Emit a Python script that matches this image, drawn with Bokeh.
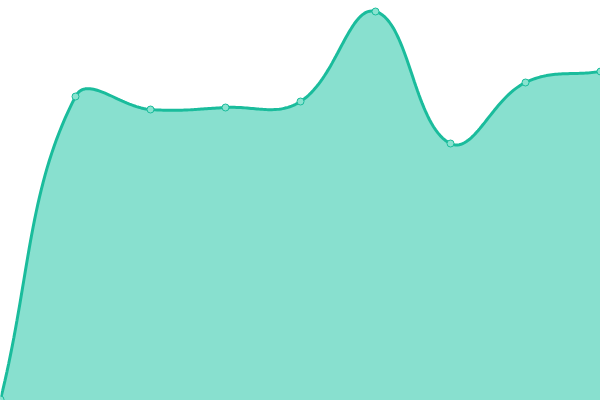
import numpy as np
from bokeh.plotting import figure
from bokeh.models import Range1d
from bokeh.embed import file_html
from bokeh.resources import INLINE

# data
labels = ["1", "2", "3", "4", "5", "6", "7", "8", "9"]
values = [1, 304, 291, 293, 299, 389, 257, 318, 329]

W, H = 600, 400
Y_MAX = 400
N = len(values)

xs = np.arange(N, dtype=float)
ys = np.array(values, dtype=float)

# Chart.js-like cardinal spline (tension 0.4), computed in screen space
sx = W / (N - 1)
sy = H / Y_MAX
px = xs * sx
py = ys * sy
t = 0.4
cp_prev = []
cp_next = []
for i in range(N):
    p0 = (px[max(i - 1, 0)], py[max(i - 1, 0)])
    p1 = (px[i], py[i])
    p2 = (px[min(i + 1, N - 1)], py[min(i + 1, N - 1)])
    d01 = np.hypot(p1[0] - p0[0], p1[1] - p0[1])
    d12 = np.hypot(p2[0] - p1[0], p2[1] - p1[1])
    s01 = d01 / (d01 + d12) if (d01 + d12) else 0
    s12 = d12 / (d01 + d12) if (d01 + d12) else 0
    fa, fb = t * s01, t * s12
    cp_prev.append((p1[0] - fa * (p2[0] - p0[0]), min(max(p1[1] - fa * (p2[1] - p0[1]), 0), H)))
    cp_next.append((p1[0] + fb * (p2[0] - p0[0]), min(max(p1[1] + fb * (p2[1] - p0[1]), 0), H)))

cx, cy = [], []
tt = np.linspace(0, 1, 40)
for i in range(N - 1):
    P0 = np.array([px[i], py[i]])
    P1 = np.array(cp_next[i])
    P2 = np.array(cp_prev[i + 1])
    P3 = np.array([px[i + 1], py[i + 1]])
    for u in tt[:-1] if i < N - 2 else tt:
        b = ((1 - u) ** 3) * P0 + 3 * ((1 - u) ** 2) * u * P1 + 3 * (1 - u) * u * u * P2 + (u ** 3) * P3
        cx.append(b[0] / sx)
        cy.append(b[1] / sy)

p = figure(width=W, height=H, output_backend="svg", toolbar_location=None,
           x_range=Range1d(0, N - 1), y_range=Range1d(0, Y_MAX),
           min_border=0, min_border_left=0, min_border_right=0,
           min_border_top=0, min_border_bottom=0)
p.axis.visible = False
p.grid.visible = False
p.outline_line_color = None
p.background_fill_color = "white"

p.varea(x=cx, y1=0, y2=cy, fill_color="#88e0cf", fill_alpha=1.0)
p.line(x=cx, y=cy, line_color="#1abc9c", line_width=3)
p.scatter(x=xs, y=ys, size=7, fill_color="#8ae3d0", line_color="#1abc9c", line_width=1)

open("out.html", "w").write(file_html(p, INLINE))
